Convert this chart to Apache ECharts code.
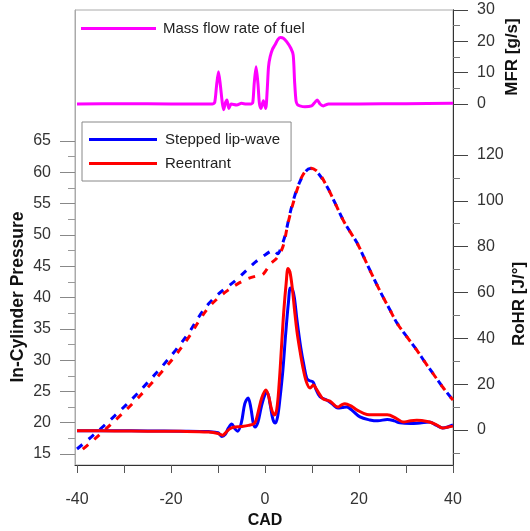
<!DOCTYPE html>
<html>
<head>
<meta charset="utf-8">
<script src="https://cdn.jsdelivr.net/npm/echarts@6/dist/echarts.min.js"></script>
<style>html,body{margin:0;padding:0;background:#fff}#c{width:530px;height:531px}</style>
</head>
<body>
<div id="c"></div>
<script>
// ---- tick / label values ----
const xTickValues = [-40, -30, -20, -10, 0, 10, 20, 30, 40];
const xLabelValues = [-40, -20, 0, 20, 40];
const pressureLabels = [15, 20, 25, 30, 35, 40, 45, 50, 55, 60, 65];
const pressureMinor = [17.5, 22.5, 27.5, 32.5, 37.5, 42.5, 47.5, 52.5, 57.5, 62.5];
const rohrLabels = [0, 20, 40, 60, 80, 100, 120];
const rohrMinor = [-10, 10, 30, 50, 70, 90, 110];

// ---- series names ----
const nameMFR = 'Mass flow rate of fuel';
const nameStepped = 'Stepped lip-wave';
const nameReentrant = 'Reentrant';

// ---- Mass flow rate of fuel [g/s] ----
const mfrCad = [-40,-30,-20,-11.2,-10.7,-10.3,-9.9,-9.5,-9.1,-8.8,-8.4,-8.1,-7.7,-7.2,-6,-5,-4,-3,-2.6,-2.3,-1.9,-1.5,-1.2,-0.85,-0.35,0.15,0.45,0.75,1.1,1.6,2.1,2.8,3.3,3.9,4.6,5.5,6.0,6.3,6.6,6.9,7.4,8.5,9.9,10.5,11.1,11.7,12.4,13.5,20,30,40];
const mfrVal = [0,0.1,0,0,0.5,6,10.3,6,0.5,-1.8,0.5,1.3,-1.4,0,-0.3,0.2,0,0,0.5,6.5,11.9,6.5,0.3,-1.4,1,-1.4,4,11.9,15.1,17.5,18.8,20.7,21.2,21,19.9,17.8,15.6,7,1,-0.2,-0.6,-0.9,-0.6,0.3,1.3,0,-0.6,0,0,0.1,0.2];

// ---- In-cylinder pressure (dashed) ----
const presSteppedCad = [-40,-37,-34,-31,-28,-25,-22,-19,-16,-14,-12,-10,-8,-6,-4,-2,0,1,1.8,2.7,3.5,4.3,5.3,6.3,7.3,8.5,9.6,11,13.2,14.9,16.6,18.1,19.6,21,22.3,23.7,25.1,26.6,28.1,30.2,32.3,34,35.7,37.8,40];
const presSteppedVal = [15.8,17.7,19.7,21.8,24.0,26.4,28.9,31.6,34.6,37.0,39.0,40.5,41.7,42.9,44.3,45.7,46.8,47.3,47.6,47.0,48.2,50.0,53.4,56.2,58.3,60.0,60.6,60.1,57.7,55.1,52.4,50.5,48.7,46.5,44.4,42.2,40.1,38.0,35.9,33.7,31.6,29.7,27.9,25.7,23.6];
const presReentrantCad = [-40,-37,-34,-31,-28,-25,-22,-19,-16,-14,-12,-10,-8,-6,-4,-2,-0.6,0.3,1.2,2.5,3.8,4.9,6,7,8,9.6,11.3,13.2,14.9,16.6,18.1,19.6,21,22.3,23.7,25.1,26.6,28.1,30.2,32.3,34,35.7,37.8,40];
const presReentrantVal = [15.0,16.9,18.9,21.0,23.2,25.6,28.1,30.8,33.9,36.3,38.4,39.9,41.1,42.1,42.9,43.4,43.6,44.4,45.4,46.3,48.1,51.9,55.1,57.6,59.5,60.7,60.0,57.7,55.1,52.4,50.5,48.7,46.5,44.4,42.2,40.1,38.0,35.9,33.7,31.6,29.7,27.9,25.7,23.6];

// ---- Rate of heat release [J/deg] (solid) ----
const rohrSteppedCad = [-40,-32,-25,-18,-12,-10,-9.2,-8.5,-7.8,-7.1,-6.4,-5.8,-5.0,-4.3,-3.6,-3.0,-2.5,-2.1,-1.5,-0.8,0,0.5,1.1,1.7,2.2,2.7,3.2,3.8,4.4,5.0,5.4,5.9,6.3,6.8,7.6,8.3,8.9,9.5,10.2,10.8,11.7,13.2,14.5,15.5,16.5,17.4,18.4,20.2,22.3,24,26,27.5,28.7,31,33,35,36.5,37.8,39,40];
const rohrSteppedVal = [-0.3,-0.3,-0.4,-0.5,-0.7,-1.2,-2.8,-2.0,0.8,2.6,0.5,-0.5,3.5,11.5,14.0,9.5,3.0,1.3,3.5,10,15.5,16.3,11,4.5,3.0,6,14,26,42,56,62,61,57,48,36,28,22.5,21.5,21,18,14.5,13,11,9.6,9.8,10,8.8,5.7,4.4,4.0,4.6,4.0,3.1,2.8,3.1,3.5,2.0,0.9,1.4,2.2];
const rohrReentrantCad = [-40,-32,-25,-18,-12,-10,-9,-8.3,-7.5,-6.8,-5,-3.5,-2.2,-1.5,-0.7,0.2,0.8,1.4,2.0,2.5,3.0,3.5,4.0,4.5,4.9,5.3,5.8,6.3,6.8,7.4,8.0,8.8,9.6,10.3,10.9,11.7,12.4,13.8,15.5,16.3,17,18.3,19.6,21.7,24,26,28,29.4,31,32.3,34.5,36.3,37.8,39,40];
const rohrReentrantVal = [-0.3,-0.4,-0.5,-0.6,-0.9,-1.5,-2.3,-1.0,0.5,1.2,1.5,2.0,3.0,7.5,14,17.5,14.5,9,6.5,9,20,36,52,64,70.5,69,62,52,43,35,28,21,18.3,19.6,18,15.3,13.5,12.6,10,11,11.5,10.5,8.7,6.8,6.6,6.6,5.0,3.5,4.0,4.2,3.7,2.5,0.9,1.3,1.7];

function zip(xs, ys) { return xs.map((x, i) => [x, ys[i]]); }

const FONT = '"Liberation Sans", Arial, sans-serif';
const BLUE = '#0000ff', RED = '#ff0000', MAGENTA = '#ff00ff';

const chart = echarts.init(document.getElementById('c'), null, {renderer: 'canvas'});

function minorAxis(position, min, max, values, color) {
  return {
    gridIndex: 1, type: 'value', position: position, min: min, max: max,
    axisLine: {show: false, onZero: false},
    axisTick: {show: true, customValues: values, length: 7, lineStyle: {color: color}},
    axisLabel: {show: false},
    splitLine: {show: false}
  };
}

const option = {
  backgroundColor: '#ffffff',
  animation: false,
  textStyle: {fontFamily: FONT},
  grid: [
    {left: 75, right: 77, top: 10, height: 94, show: false},
    {left: 75, right: 77, top: 10, bottom: 66, show: true, borderColor: '#aaaaaa', borderWidth: 1, backgroundColor: 'transparent'}
  ],
  xAxis: [
    {gridIndex: 0, type: 'value', min: -40.43, max: 40, show: false},
    {
      gridIndex: 1, type: 'value', min: -40.43, max: 40, position: 'bottom',
      axisLine: {show: true, onZero: false, lineStyle: {color: '#333', width: 1}},
      axisTick: {show: true, customValues: xTickValues, length: 8, lineStyle: {color: '#555'}},
      axisLabel: {show: true, customValues: xLabelValues, margin: 27, fontSize: 16, color: '#333', fontFamily: FONT},
      splitLine: {show: false}
    }
  ],
  yAxis: [
    {
      gridIndex: 0, type: 'value', position: 'right', min: 0, max: 30, interval: 10,
      axisLine: {show: true, onZero: false, lineStyle: {color: '#333', width: 1}},
      axisTick: {show: true, length: 15, lineStyle: {color: '#444'}},
      minorTick: {show: true, splitNumber: 2, length: 7, lineStyle: {color: '#777'}},
      axisLabel: {show: true, margin: 24, fontSize: 16, color: '#333', fontFamily: FONT},
      splitLine: {show: false}, minorSplitLine: {show: false}
    },
    {
      gridIndex: 1, type: 'value', position: 'left', min: 13.243, max: 85.927,
      axisLine: {show: true, onZero: false, lineStyle: {color: '#aaaaaa', width: 1}},
      axisTick: {show: true, customValues: pressureLabels, length: 15, lineStyle: {color: '#888'}},
      axisLabel: {show: true, customValues: pressureLabels, margin: 24, fontSize: 16, color: '#333', fontFamily: FONT},
      splitLine: {show: false}
    },
    minorAxis('left', 13.243, 85.927, pressureMinor, '#999'),
    {
      gridIndex: 1, type: 'value', position: 'right', min: -15.273, max: 183.27,
      axisLine: {show: true, onZero: false, lineStyle: {color: '#333', width: 1}},
      axisTick: {show: true, customValues: rohrLabels, length: 15, lineStyle: {color: '#444'}},
      axisLabel: {show: true, customValues: rohrLabels, margin: 24, fontSize: 16, color: '#333', fontFamily: FONT},
      splitLine: {show: false}
    },
    minorAxis('right', -15.273, 183.27, rohrMinor, '#777')
  ],
  legend: [
    {
      data: [nameMFR], left: 81, top: 21, padding: 0, orient: 'horizontal',
      icon: 'rect', itemWidth: 75, itemHeight: 3,
      textStyle: {fontSize: 15, color: '#222', fontFamily: FONT, padding: [0, 0, 0, 2]}
    },
    {
      data: [nameStepped, nameReentrant], left: 82, top: 122, orient: 'vertical',
      icon: 'rect', padding: [10, 11, 10, 7], itemGap: 9, itemWidth: 68, itemHeight: 3,
      borderColor: '#888', borderWidth: 1, borderRadius: 0, backgroundColor: '#fff',
      textStyle: {fontSize: 15, color: '#222', fontFamily: FONT, padding: [0, 0, 0, 3]}
    }
  ],
  graphic: [
    {type: 'text', x: 18, y: 297, rotation: Math.PI / 2,
     style: {text: 'In-Cylinder Pressure', fontSize: 17.5, fontWeight: 'bold', fontFamily: FONT, fill: '#111', align: 'center', verticalAlign: 'middle'}},
    {type: 'text', x: 519, y: 304, rotation: Math.PI / 2,
     style: {text: 'RoHR [J/°]', fontSize: 17, fontWeight: 'bold', fontFamily: FONT, fill: '#111', align: 'center', verticalAlign: 'middle'}},
    {type: 'text', x: 512, y: 57, rotation: Math.PI / 2,
     style: {text: 'MFR [g/s]', fontSize: 17, fontWeight: 'bold', fontFamily: FONT, fill: '#111', align: 'center', verticalAlign: 'middle'}},
    {type: 'text', x: 265, y: 521,
     style: {text: 'CAD', fontSize: 16, fontWeight: 'bold', fontFamily: FONT, fill: '#111', align: 'center', verticalAlign: 'middle'}}
  ],
  series: [
    {
      name: nameMFR, type: 'line', xAxisIndex: 0, yAxisIndex: 0,
      data: zip(mfrCad, mfrVal), showSymbol: false, symbol: 'none', smooth: 0.25, clip: false,
      color: MAGENTA, lineStyle: {color: MAGENTA, width: 3}
    },
    {
      name: nameStepped + ' pressure', type: 'line', xAxisIndex: 1, yAxisIndex: 1,
      data: zip(presSteppedCad, presSteppedVal), symbol: 'none', smooth: 0.35,
      color: BLUE, lineStyle: {color: BLUE, width: 3, type: [7, 8], dashOffset: 0}
    },
    {
      name: nameReentrant + ' pressure', type: 'line', xAxisIndex: 1, yAxisIndex: 1,
      data: zip(presReentrantCad, presReentrantVal), symbol: 'none', smooth: 0.35,
      color: RED, lineStyle: {color: RED, width: 3, type: [7, 8], dashOffset: 7.5}
    },
    {
      name: nameStepped, type: 'line', xAxisIndex: 1, yAxisIndex: 3,
      data: zip(rohrSteppedCad, rohrSteppedVal), symbol: 'none', smooth: 0.35,
      color: BLUE, lineStyle: {color: BLUE, width: 3}
    },
    {
      name: nameReentrant, type: 'line', xAxisIndex: 1, yAxisIndex: 3,
      data: zip(rohrReentrantCad, rohrReentrantVal), symbol: 'none', smooth: 0.35,
      color: RED, lineStyle: {color: RED, width: 3}
    }
  ]
};
chart.setOption(option);
</script>
</body>
</html>
